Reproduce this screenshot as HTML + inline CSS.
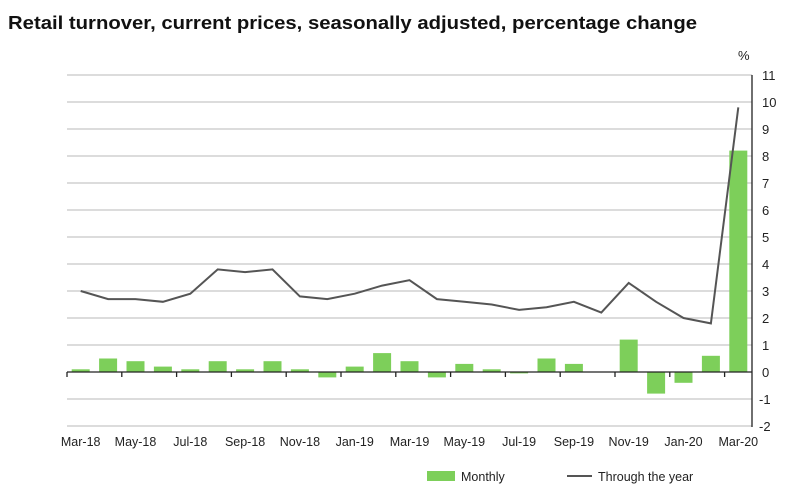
<!DOCTYPE html><html><head><style>body{margin:0;background:#fff}</style></head><body>
<svg width="791" height="499" xmlns="http://www.w3.org/2000/svg" font-family="Liberation Sans, Arial, sans-serif">
<text x="8" y="29" font-size="18.5" font-weight="bold" fill="#111" textLength="689" lengthAdjust="spacingAndGlyphs">Retail turnover, current prices, seasonally adjusted, percentage change</text>
<g stroke="#c8c8c8" stroke-width="1.3">
<line x1="67" x2="752" y1="426" y2="426"/><line x1="67" x2="752" y1="399" y2="399"/>
<line x1="67" x2="752" y1="345" y2="345"/><line x1="67" x2="752" y1="318" y2="318"/>
<line x1="67" x2="752" y1="291" y2="291"/><line x1="67" x2="752" y1="264" y2="264"/>
<line x1="67" x2="752" y1="237" y2="237"/><line x1="67" x2="752" y1="210" y2="210"/>
<line x1="67" x2="752" y1="183" y2="183"/><line x1="67" x2="752" y1="156" y2="156"/>
<line x1="67" x2="752" y1="129" y2="129"/><line x1="67" x2="752" y1="102" y2="102"/>
<line x1="67" x2="752" y1="75" y2="75"/>
</g>
<g font-size="13" fill="#222">
<text x="738" y="60">%</text>
<text x="762" y="80">11</text><text x="762" y="107">10</text><text x="762" y="134">9</text>
<text x="762" y="161">8</text><text x="762" y="188">7</text><text x="762" y="215">6</text>
<text x="762" y="242">5</text><text x="762" y="269">4</text><text x="762" y="296">3</text>
<text x="762" y="323">2</text><text x="762" y="350">1</text><text x="762" y="377">0</text>
<text x="759" y="404">-1</text><text x="759" y="431">-2</text>
</g>
<g fill="#7dcf5a">
<rect x="71.7" y="369.3" width="18" height="2.7"/>
<rect x="99.1" y="358.5" width="18" height="13.5"/>
<rect x="126.5" y="361.2" width="18" height="10.8"/>
<rect x="153.9" y="366.6" width="18" height="5.4"/>
<rect x="181.3" y="369.3" width="18" height="2.7"/>
<rect x="208.7" y="361.2" width="18" height="10.8"/>
<rect x="236.1" y="369.3" width="18" height="2.7"/>
<rect x="263.5" y="361.2" width="18" height="10.8"/>
<rect x="290.9" y="369.3" width="18" height="2.7"/>
<rect x="318.3" y="372" width="18" height="5.4"/>
<rect x="345.7" y="366.6" width="18" height="5.4"/>
<rect x="373.1" y="353.1" width="18" height="18.9"/>
<rect x="400.5" y="361.2" width="18" height="10.8"/>
<rect x="427.9" y="372" width="18" height="5.4"/>
<rect x="455.3" y="363.9" width="18" height="8.1"/>
<rect x="482.7" y="369.3" width="18" height="2.7"/>
<rect x="510.1" y="372" width="18" height="1.4"/>
<rect x="537.5" y="358.5" width="18" height="13.5"/>
<rect x="564.9" y="363.9" width="18" height="8.1"/>
<rect x="619.7" y="339.6" width="18" height="32.4"/>
<rect x="647.1" y="372" width="18" height="21.6"/>
<rect x="674.5" y="372" width="18" height="10.8"/>
<rect x="701.9" y="355.8" width="18" height="16.2"/>
<rect x="729.3" y="150.6" width="18" height="221.4"/>
</g>
<g stroke="#222" stroke-width="1.3">
<line x1="67" x2="752" y1="372" y2="372"/>
<line x1="752" x2="752" y1="75" y2="427"/>
<line x1="67" x2="67" y1="372" y2="377"/><line x1="121.8" x2="121.8" y1="372" y2="377"/>
<line x1="176.6" x2="176.6" y1="372" y2="377"/><line x1="231.4" x2="231.4" y1="372" y2="377"/>
<line x1="286.2" x2="286.2" y1="372" y2="377"/><line x1="341" x2="341" y1="372" y2="377"/>
<line x1="395.8" x2="395.8" y1="372" y2="377"/><line x1="450.6" x2="450.6" y1="372" y2="377"/>
<line x1="505.4" x2="505.4" y1="372" y2="377"/><line x1="560.2" x2="560.2" y1="372" y2="377"/>
<line x1="615" x2="615" y1="372" y2="377"/><line x1="669.8" x2="669.8" y1="372" y2="377"/>
<line x1="724.6" x2="724.6" y1="372" y2="377"/>
</g>
<g font-size="12.5" fill="#222" text-anchor="middle">
<text x="80.7" y="446">Mar-18</text><text x="135.5" y="446">May-18</text>
<text x="190.3" y="446">Jul-18</text><text x="245.1" y="446">Sep-18</text>
<text x="299.9" y="446">Nov-18</text><text x="354.7" y="446">Jan-19</text>
<text x="409.5" y="446">Mar-19</text><text x="464.3" y="446">May-19</text>
<text x="519.1" y="446">Jul-19</text><text x="573.9" y="446">Sep-19</text>
<text x="628.7" y="446">Nov-19</text><text x="683.5" y="446">Jan-20</text>
<text x="738.3" y="446">Mar-20</text>
</g>
<polyline fill="none" stroke="#555" stroke-width="2" points="80.7,291 108.1,299.1 135.5,299.1 162.9,301.8 190.3,293.7 217.7,269.4 245.1,272.1 272.5,269.4 299.9,296.4 327.3,299.1 354.7,293.7 382.1,285.6 409.5,280.2 436.9,299.1 464.3,301.8 491.7,304.5 519.1,309.9 546.5,307.2 573.9,301.8 601.3,312.6 628.7,282.9 656.1,301.8 683.5,318 710.9,323.4 738.3,107.4"/>
<rect x="427" y="471" width="28" height="10" fill="#7dcf5a"/>
<text x="461" y="481" font-size="12.5" fill="#222">Monthly</text>
<line x1="567" x2="592" y1="476" y2="476" stroke="#555" stroke-width="2"/>
<text x="598" y="481" font-size="12.5" fill="#222">Through the year</text>
</svg></body></html>
